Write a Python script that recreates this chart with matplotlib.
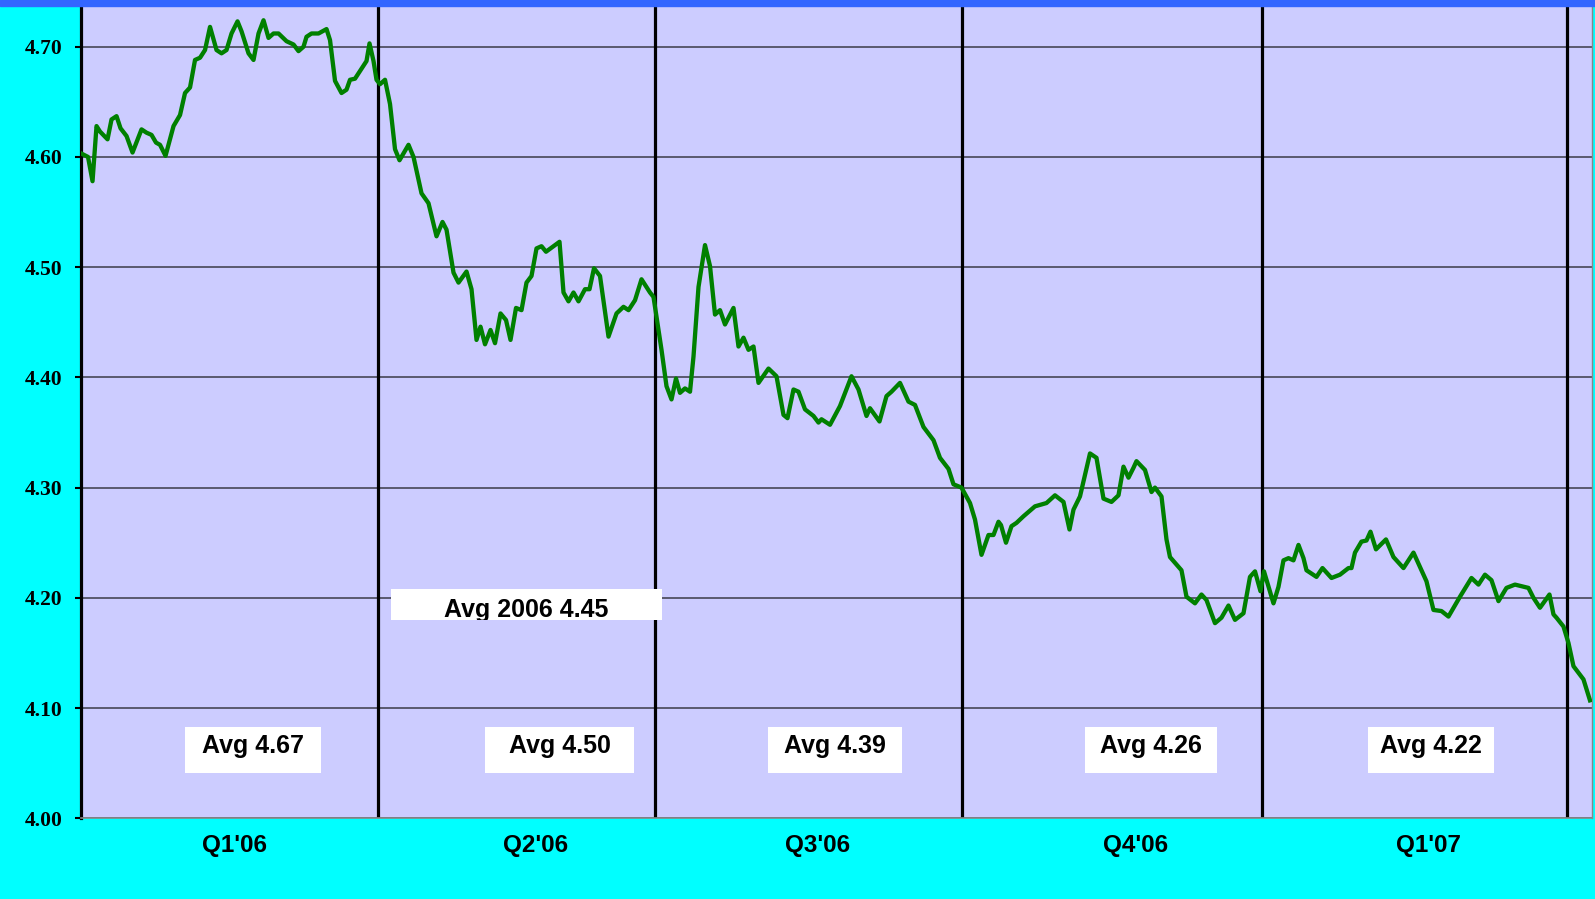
import matplotlib
matplotlib.use("Agg")
import matplotlib.pyplot as plt
from matplotlib.patches import Rectangle
from matplotlib.transforms import Bbox, TransformedBbox

# trading day index (approx) and yield values
days = [0.1, 1.4, 2.3, 3.1, 3.8, 5.3, 6.1, 7.1, 7.9, 9.1, 10.3, 12.1, 13.1, 14.1, 15.0, 15.8,
        16.9, 18.5, 19.8, 20.8, 21.8, 22.8, 23.8, 24.8, 25.8, 27.1, 28.1, 29.1, 30.1, 31.3,
        32.1, 33.5, 34.5, 35.5, 36.5, 37.5, 38.5, 39.5, 41.1, 42.5, 43.5, 44.5, 45.1, 46.1,
        47.5, 49.1, 49.8, 50.8, 52.1, 53.1, 53.8, 54.8, 55.8, 57.1, 57.7, 58.5, 59.1, 59.8,
        60.8, 61.8, 62.8, 63.7, 65.5, 66.5, 68.1, 69.5, 71.1, 72.3, 73.1, 74.5, 75.5, 77.1,
        78.1, 79.1, 79.9, 80.8, 81.9, 82.8, 83.9, 85.0, 85.9, 87.0, 88.1, 89.1, 90.1, 91.1,
        92.1, 93.0, 94.5, 95.7, 96.5, 97.5, 98.5, 99.5, 100.8, 101.7, 102.6, 103.8, 105.5,
        107.1, 108.5, 109.5, 110.8, 112.1, 113.8, 114.5, 116.1, 117.1, 118.1, 119.0, 119.8,
        120.8, 121.8, 122.5, 123.5, 124.8, 125.8, 126.8, 127.8, 128.8, 130.5, 131.5, 132.5,
        133.5, 134.5, 135.5, 137.5, 139.1, 140.5, 141.3, 142.5, 143.5, 144.8, 146.5, 147.5,
        148.1, 149.8, 151.8, 154.1, 155.5, 157.1, 157.8, 159.7, 161.1, 162.1, 163.8, 165.5,
        166.8, 168.5, 170.5, 171.8, 173.5, 174.5, 176.1, 177.8, 178.8, 180.1, 181.5, 182.5,
        183.5, 184.0, 185.0, 186.1, 187.1, 188.5, 190.8, 193.1, 194.8, 196.5, 197.7, 198.5,
        199.8, 201.8, 203.1, 204.5, 206.1, 207.5, 208.5, 209.5, 210.5, 211.1, 212.8, 214.1,
        214.8, 216.1, 217.1, 217.8, 220.1, 221.1, 222.8, 224.1, 225.1, 226.8, 228.1, 229.5,
        230.8, 232.5, 233.8, 234.8, 235.9, 236.6, 238.5, 239.5, 240.5, 241.5, 242.5, 243.5,
        244.5, 245.1, 247.1, 248.3, 250.1, 251.8, 253.5, 254.1, 254.8, 256.1, 257.1, 257.9,
        259.0, 261.0, 262.5, 264.5, 266.5, 267.8, 269.1, 270.5, 272.1, 273.5, 275.8, 278.1,
        279.5, 280.8, 282.1, 283.5, 285.1, 286.8, 289.5, 290.5, 291.8, 293.7, 294.5, 295.1,
        296.5, 297.5, 298.5, 300.5, 301.8]
rate = [4.603, 4.600, 4.578, 4.628, 4.623, 4.616, 4.634, 4.637, 4.626, 4.619, 4.604, 4.625,
        4.622, 4.620, 4.613, 4.611, 4.601, 4.628, 4.638, 4.658, 4.663, 4.688, 4.690, 4.697,
        4.718, 4.697, 4.694, 4.697, 4.712, 4.723, 4.714, 4.694, 4.688, 4.712, 4.724, 4.708,
        4.712, 4.712, 4.705, 4.702, 4.696, 4.700, 4.709, 4.712, 4.712, 4.716, 4.706, 4.669,
        4.658, 4.661, 4.670, 4.671, 4.678, 4.687, 4.703, 4.687, 4.670, 4.666, 4.670, 4.648,
        4.607, 4.597, 4.611, 4.600, 4.567, 4.558, 4.528, 4.541, 4.534, 4.495, 4.486, 4.496,
        4.480, 4.434, 4.446, 4.430, 4.443, 4.431, 4.458, 4.452, 4.434, 4.463, 4.461, 4.486,
        4.492, 4.517, 4.519, 4.514, 4.519, 4.523, 4.477, 4.469, 4.477, 4.469, 4.480, 4.480,
        4.499, 4.492, 4.437, 4.458, 4.464, 4.461, 4.470, 4.489, 4.477, 4.473, 4.425, 4.392,
        4.380, 4.399, 4.386, 4.390, 4.387, 4.419, 4.482, 4.520, 4.501, 4.457, 4.461, 4.448,
        4.463, 4.428, 4.436, 4.425, 4.428, 4.395, 4.408, 4.401, 4.366, 4.363, 4.389, 4.387,
        4.371, 4.365, 4.359, 4.362, 4.357, 4.374, 4.401, 4.389, 4.365, 4.372, 4.360, 4.383,
        4.387, 4.395, 4.378, 4.375, 4.355, 4.343, 4.327, 4.317, 4.303, 4.300, 4.286, 4.271,
        4.239, 4.257, 4.257, 4.269, 4.266, 4.250, 4.265, 4.268, 4.274, 4.283, 4.286, 4.293,
        4.287, 4.262, 4.280, 4.292, 4.331, 4.327, 4.290, 4.287, 4.293, 4.319, 4.309, 4.318,
        4.324, 4.316, 4.296, 4.300, 4.292, 4.253, 4.237, 4.225, 4.201, 4.195, 4.203, 4.198,
        4.177, 4.182, 4.193, 4.180, 4.186, 4.219, 4.224, 4.206, 4.224, 4.195, 4.210, 4.234,
        4.236, 4.234, 4.248, 4.236, 4.225, 4.219, 4.227, 4.218, 4.221, 4.227, 4.227, 4.241,
        4.251, 4.252, 4.260, 4.244, 4.253, 4.237, 4.227, 4.241, 4.228, 4.215, 4.189, 4.188,
        4.183, 4.201, 4.218, 4.212, 4.221, 4.216, 4.197, 4.209, 4.212, 4.209, 4.200, 4.191,
        4.203, 4.185, 4.182, 4.174, 4.159, 4.138, 4.126, 4.107]

quarter_ends = [59.3, 114.7, 176.2, 236.3, 297.3]
quarter_labels = ["Q1'06", "Q2'06", "Q3'06", "Q4'06", "Q1'07"]
quarter_label_x = [30.6, 91.0, 147.4, 211.0, 269.6]

avg_labels = ["Avg 4.67", "Avg 4.50", "Avg 4.39", "Avg 4.26", "Avg 4.22"]
avg_box_x = [(20.8, 48.0), (80.8, 110.6), (137.3, 164.3), (200.8, 227.2), (257.4, 282.6)]
year_avg_label = "Avg 2006 4.45"

fig = plt.figure(figsize=(15.95, 8.99), dpi=100, facecolor='#00FFFF')
ax = fig.add_axes([0.0508, 0.0898, 0.9473, 0.9036])
ax.set_facecolor('#CCCCFF')

# blue strip at the top
fig.patches.append(Rectangle((0, 0.9935), 1, 0.0065, transform=fig.transFigure,
                             color='#3366FF', zorder=0))

ax.set_xlim(0, 302.2)
ax.set_ylim(4.0, 4.737)
ax.set_yticks([4.0, 4.1, 4.2, 4.3, 4.4, 4.5, 4.6, 4.7])
ax.set_yticklabels(['%.2f' % v for v in ax.get_yticks()],
                   fontfamily='Liberation Serif', fontweight='bold', fontsize=15.5)
ax.tick_params(axis='y', length=4.3, width=1.5, pad=9, color='black')
ax.set_xticks(quarter_label_x)
ax.set_xticklabels(quarter_labels, fontfamily='Liberation Sans', fontweight='bold', fontsize=17.5)
ax.tick_params(axis='x', length=0, pad=11)

ax.grid(axis='y', color='#3a3a48', linewidth=1.1, zorder=1)
for q in quarter_ends:
    ax.axvline(q, color='black', linewidth=2.3, zorder=2)

ax.spines['top'].set_visible(False)
ax.spines['left'].set_linewidth(2.3)
ax.spines['left'].set_color('black')
ax.spines['bottom'].set_color('#888888')
ax.spines['bottom'].set_linewidth(1.2)
ax.spines['right'].set_color('#888888')
ax.spines['right'].set_linewidth(1.0)

ax.plot(days, rate, color='#008000', linewidth=3.1, zorder=3)

# quarterly average boxes
for lab, (x0, x1) in zip(avg_labels, avg_box_x):
    ax.add_patch(Rectangle((x0, 4.0412), x1 - x0, 4.0830 - 4.0412, facecolor='white',
                           edgecolor='none', zorder=4))
    ax.text((x0 + x1) / 2, 4.0593, lab, ha='center', va='baseline', fontsize=18,
            fontfamily='Liberation Sans', fontweight='bold', zorder=5)

# year average box (text cut off at bottom edge as in original)
ax.add_patch(Rectangle((62.0, 4.1800), 54.2, 0.0282, facecolor='white', edgecolor='none', zorder=4))
t = ax.text(89.1, 4.1828, year_avg_label, ha='center', va='baseline', fontsize=18,
            fontfamily='Liberation Sans', fontweight='bold', zorder=5)
t.set_clip_box(TransformedBbox(Bbox([[62.0, 4.1800], [116.2, 4.2082]]), ax.transData))
t.set_clip_on(True)

fig.savefig('out.png', dpi=100, facecolor=fig.get_facecolor())
